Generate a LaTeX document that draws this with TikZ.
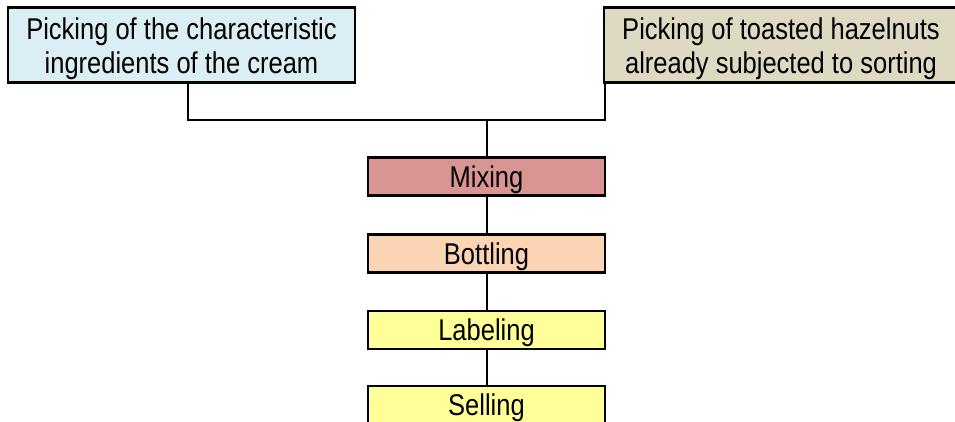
\documentclass[tikz,border=0pt]{standalone}
\usepackage{fontspec}
\setmainfont{Liberation Sans}[FakeStretch=0.85]
\definecolor{cblue}{HTML}{DAEEF3}
\definecolor{ctan}{HTML}{DDD9C3}
\definecolor{cmix}{HTML}{D99594}
\definecolor{cbot}{HTML}{FBD4B4}
\definecolor{cyel}{HTML}{FFFF99}
\newcommand{\twolines}[2]{\raisebox{5.5pt}[0pt][0pt]{\begin{tabular}[t]{@{}c@{}}#1\\#2\end{tabular}}}
\begin{document}
\begin{tikzpicture}[x=1pt,y=-1pt,
  box/.style={draw=black,line width=2.3pt,inner sep=0pt,align=center,
    font=\fontsize{30}{34}\selectfont},
  topbox/.style={box,minimum height=75pt},
  midbox/.style={box,minimum width=237pt,minimum height=38pt,text height=21.5pt,text depth=0pt},
  conn/.style={draw=black,line width=2pt}]
\useasboundingbox (0,0) rectangle (955,421);
\clip (0,0) rectangle (955,421);
\node[topbox,fill=cblue,minimum width=347pt] (L) at (181.5,45) {\twolines{Picking of the characteristic}{ingredients of the cream}};
\node[topbox,fill=ctan,minimum width=354pt] (R) at (781,45) {\twolines{Picking of toasted hazelnuts}{already subjected to sorting}};
\node[midbox,fill=cmix] (M) at (486.5,176.5) {Mixing};
\node[midbox,fill=cbot] (B) at (486.5,253.5) {Bottling};
\node[midbox,fill=cyel] (La) at (486.5,330) {Labeling};
\node[midbox,fill=cyel] (S) at (486.5,405) {Selling};
\coordinate (jl) at (188,120);
\coordinate (jr) at (605,120);
\coordinate (jm) at (486.5,120);
\draw[conn] (L.south -| jl) -- (jl) -- (jr) -- (R.south -| jr);
\draw[conn] (jm) -- (M.north);
\draw[conn] (M) -- (B);
\draw[conn] (B) -- (La);
\draw[conn] (La) -- (S);
\end{tikzpicture}
\end{document}
